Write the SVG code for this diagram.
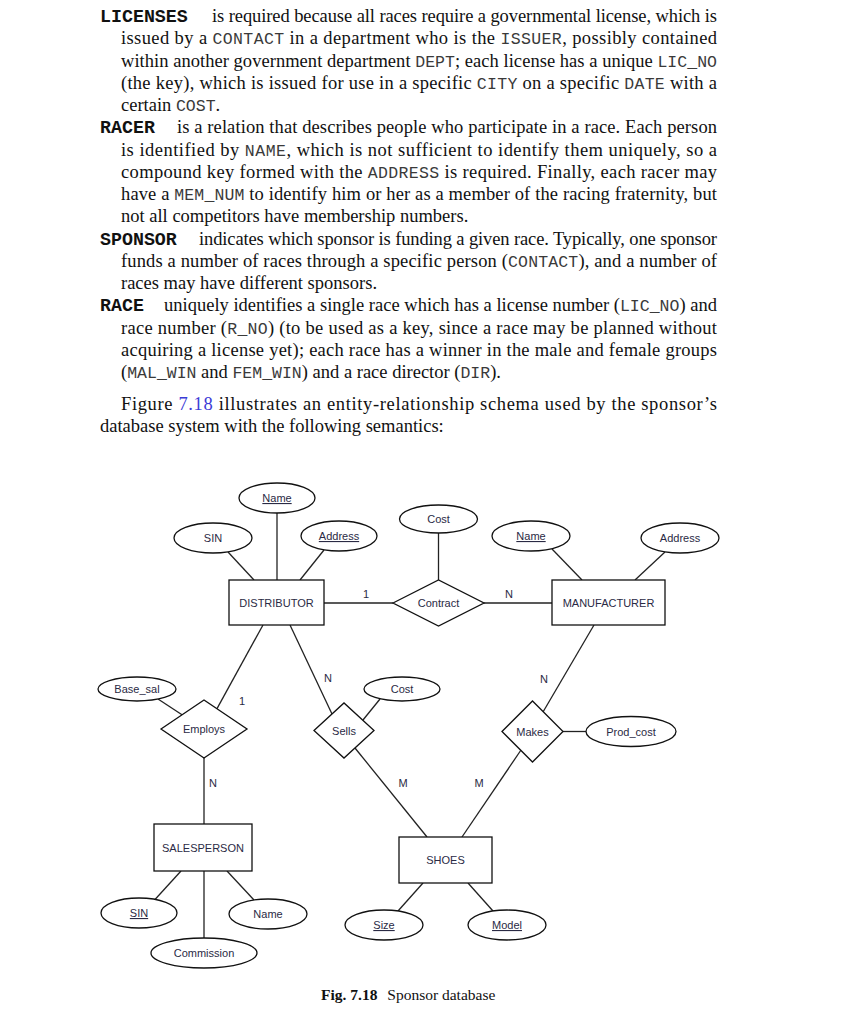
<svg xmlns="http://www.w3.org/2000/svg" width="845" height="1024" viewBox="0 0 845 1024">
<style>
.bt{font-family:"Liberation Serif","Times New Roman",serif;font-size:18.5px;fill:#111}
.m{font-family:"Liberation Mono","Courier New",monospace;font-size:16.5px;fill:#3a3a3a}
.mb{font-family:"Liberation Mono","Courier New",monospace;font-size:18.3px;font-weight:bold;fill:#111}
.lnk{fill:#3b3bd6}
.cap{font-family:"Liberation Serif","Times New Roman",serif;font-size:15.5px;fill:#111}
.shape{fill:#fff;stroke:#111;stroke-width:1.3}
.lbl{font-family:"Liberation Sans",Arial,sans-serif;font-size:11px;fill:#2a2a44;text-anchor:middle}
.u{text-decoration:underline}
#connectors line{stroke:#222;stroke-width:1.3}
</style>
<rect width="845" height="1024" fill="#fff"/>

<g id="body-text">
<text class="mb" x="100" y="22">LICENSES</text>
<text class="bt" x="212" y="22" textLength="505" lengthAdjust="spacing">is required because all races require a governmental license, which is</text>
<text class="bt" x="121" y="44.3" textLength="596" lengthAdjust="spacing">issued by a <tspan class="m">CONTACT</tspan> in a department who is the <tspan class="m">ISSUER</tspan>, possibly contained</text>
<text class="bt" x="121" y="66.5" textLength="596" lengthAdjust="spacing">within another government department <tspan class="m">DEPT</tspan>; each license has a unique <tspan class="m">LIC_NO</tspan></text>
<text class="bt" x="121" y="88.8" textLength="596" lengthAdjust="spacing">(the key), which is issued for use in a specific <tspan class="m">CITY</tspan> on a specific <tspan class="m">DATE</tspan> with a</text>
<text class="bt" x="121" y="111">certain <tspan class="m">COST</tspan>.</text>

<text class="mb" x="100" y="133.3">RACER</text>
<text class="bt" x="177" y="133.3" textLength="540" lengthAdjust="spacing">is a relation that describes people who participate in a race. Each person</text>
<text class="bt" x="121" y="155.5" textLength="596" lengthAdjust="spacing">is identified by <tspan class="m">NAME</tspan>, which is not sufficient to identify them uniquely, so a</text>
<text class="bt" x="121" y="177.8" textLength="596" lengthAdjust="spacing">compound key formed with the <tspan class="m">ADDRESS</tspan> is required. Finally, each racer may</text>
<text class="bt" x="121" y="200" textLength="596" lengthAdjust="spacing">have a <tspan class="m">MEM_NUM</tspan> to identify him or her as a member of the racing fraternity, but</text>
<text class="bt" x="121" y="222.3">not all competitors have membership numbers.</text>

<text class="mb" x="100" y="244.5">SPONSOR</text>
<text class="bt" x="199" y="244.5" textLength="518" lengthAdjust="spacing">indicates which sponsor is funding a given race. Typically, one sponsor</text>
<text class="bt" x="121" y="266.8" textLength="596" lengthAdjust="spacing">funds a number of races through a specific person (<tspan class="m">CONTACT</tspan>), and a number of</text>
<text class="bt" x="121" y="289">races may have different sponsors.</text>

<text class="mb" x="100" y="311.3">RACE</text>
<text class="bt" x="164" y="311.3" textLength="553" lengthAdjust="spacing">uniquely identifies a single race which has a license number (<tspan class="m">LIC_NO</tspan>) and</text>
<text class="bt" x="121" y="333.5" textLength="596" lengthAdjust="spacing">race number (<tspan class="m">R_NO</tspan>) (to be used as a key, since a race may be planned without</text>
<text class="bt" x="121" y="355.8" textLength="596" lengthAdjust="spacing">acquiring a license yet); each race has a winner in the male and female groups</text>
<text class="bt" x="121" y="378">(<tspan class="m">MAL_WIN</tspan> and <tspan class="m">FEM_WIN</tspan>) and a race director (<tspan class="m">DIR</tspan>).</text>

<text class="bt" x="121" y="410" textLength="596" lengthAdjust="spacing">Figure <tspan class="lnk">7.18</tspan> illustrates an entity-relationship schema used by the sponsor’s</text>
<text class="bt" x="100" y="432">database system with the following semantics:</text>
</g>

<g id="connectors">
<line x1="228" y1="552" x2="254" y2="580"/>
<line x1="277" y1="513" x2="277" y2="580"/>
<line x1="324" y1="550" x2="300" y2="580"/>
<line x1="324" y1="603" x2="393" y2="603"/>
<line x1="438.5" y1="533" x2="438.5" y2="580"/>
<line x1="484" y1="603" x2="552" y2="603"/>
<line x1="552" y1="549" x2="582" y2="580"/>
<line x1="665" y1="552" x2="635" y2="580"/>
<line x1="263" y1="625" x2="217" y2="708.6"/>
<line x1="290" y1="625" x2="332" y2="714"/>
<line x1="158" y1="699" x2="182" y2="714.8"/>
<line x1="204" y1="758" x2="204" y2="824"/>
<line x1="380" y1="699" x2="363" y2="720"/>
<line x1="355" y1="748" x2="427" y2="837"/>
<line x1="594" y1="625" x2="543" y2="712"/>
<line x1="563" y1="731.5" x2="586" y2="731.5"/>
<line x1="521" y1="750" x2="462" y2="837"/>
<line x1="181" y1="871" x2="155" y2="899.5"/>
<line x1="227" y1="871" x2="254" y2="900"/>
<line x1="204" y1="871" x2="204" y2="938"/>
<line x1="423" y1="883" x2="398" y2="911"/>
<line x1="468" y1="883" x2="493" y2="911"/>
<text class="lbl" x="366" y="598">1</text>
<text class="lbl" x="509" y="598">N</text>
<text class="lbl" x="328" y="682">N</text>
<text class="lbl" x="242" y="705">1</text>
<text class="lbl" x="213" y="787">N</text>
<text class="lbl" x="403" y="787">M</text>
<text class="lbl" x="479" y="787">M</text>
<text class="lbl" x="544" y="683">N</text>
</g>

<g id="DISTRIBUTOR"><rect class="shape" x="229" y="580" width="95" height="45"/><text class="lbl" x="276.5" y="607">DISTRIBUTOR</text></g>
<g id="MANUFACTURER"><rect class="shape" x="552" y="580" width="113" height="45"/><text class="lbl" x="608.5" y="607">MANUFACTURER</text></g>
<g id="SALESPERSON"><rect class="shape" x="154" y="824" width="98" height="47"/><text class="lbl" x="203" y="851.5">SALESPERSON</text></g>
<g id="SHOES"><rect class="shape" x="399" y="837" width="93" height="46"/><text class="lbl" x="445.5" y="864">SHOES</text></g>

<g id="Contract"><polygon class="shape" points="393,603 438.5,580 484,603 438.5,626"/><text class="lbl" x="438.5" y="607">Contract</text></g>
<g id="Employs"><polygon class="shape" points="161,729 204,700 247,729 204,758"/><text class="lbl" x="204" y="733">Employs</text></g>
<g id="Sells"><polygon class="shape" points="314,730.5 344,703 374,730.5 344,758"/><text class="lbl" x="344" y="734.5">Sells</text></g>
<g id="Makes"><polygon class="shape" points="502,731.5 532.5,701 563,731.5 532.5,762"/><text class="lbl" x="532.5" y="735.5">Makes</text></g>

<g id="Dist_Name"><ellipse class="shape" cx="277" cy="498" rx="38" ry="15"/><text class="lbl u" x="277" y="502">Name</text></g>
<g id="Dist_SIN"><ellipse class="shape" cx="213" cy="538" rx="39" ry="15"/><text class="lbl" x="213" y="542">SIN</text></g>
<g id="Dist_Address"><ellipse class="shape" cx="339" cy="536" rx="38" ry="15"/><text class="lbl u" x="339" y="540">Address</text></g>
<g id="Contract_Cost"><ellipse class="shape" cx="438.5" cy="519" rx="39" ry="14"/><text class="lbl" x="438.5" y="523">Cost</text></g>
<g id="Manu_Name"><ellipse class="shape" cx="531" cy="536" rx="39" ry="15"/><text class="lbl u" x="531" y="540">Name</text></g>
<g id="Manu_Address"><ellipse class="shape" cx="680" cy="538" rx="39" ry="15"/><text class="lbl" x="680" y="542">Address</text></g>
<g id="Base_sal"><ellipse class="shape" cx="137" cy="689" rx="39" ry="12"/><text class="lbl" x="137" y="693">Base_sal</text></g>
<g id="Sells_Cost"><ellipse class="shape" cx="402" cy="689" rx="38" ry="12"/><text class="lbl" x="402" y="693">Cost</text></g>
<g id="Prod_cost"><ellipse class="shape" cx="631" cy="731.5" rx="45" ry="15"/><text class="lbl" x="631" y="735.5">Prod_cost</text></g>
<g id="Sales_SIN"><ellipse class="shape" cx="139" cy="913" rx="38" ry="15"/><text class="lbl u" x="139" y="917">SIN</text></g>
<g id="Sales_Name"><ellipse class="shape" cx="268" cy="914" rx="39" ry="15"/><text class="lbl" x="268" y="918">Name</text></g>
<g id="Commission"><ellipse class="shape" cx="204" cy="953" rx="53" ry="15"/><text class="lbl" x="204" y="957">Commission</text></g>
<g id="Size"><ellipse class="shape" cx="384" cy="925" rx="39" ry="15"/><text class="lbl u" x="384" y="929">Size</text></g>
<g id="Model"><ellipse class="shape" cx="507" cy="925" rx="39" ry="15"/><text class="lbl u" x="507" y="929">Model</text></g>

<g id="caption"><text class="cap" x="321" y="1000"><tspan font-weight="bold">Fig. 7.18</tspan>  <tspan dx="6">Sponsor database</tspan></text></g>
</svg>
